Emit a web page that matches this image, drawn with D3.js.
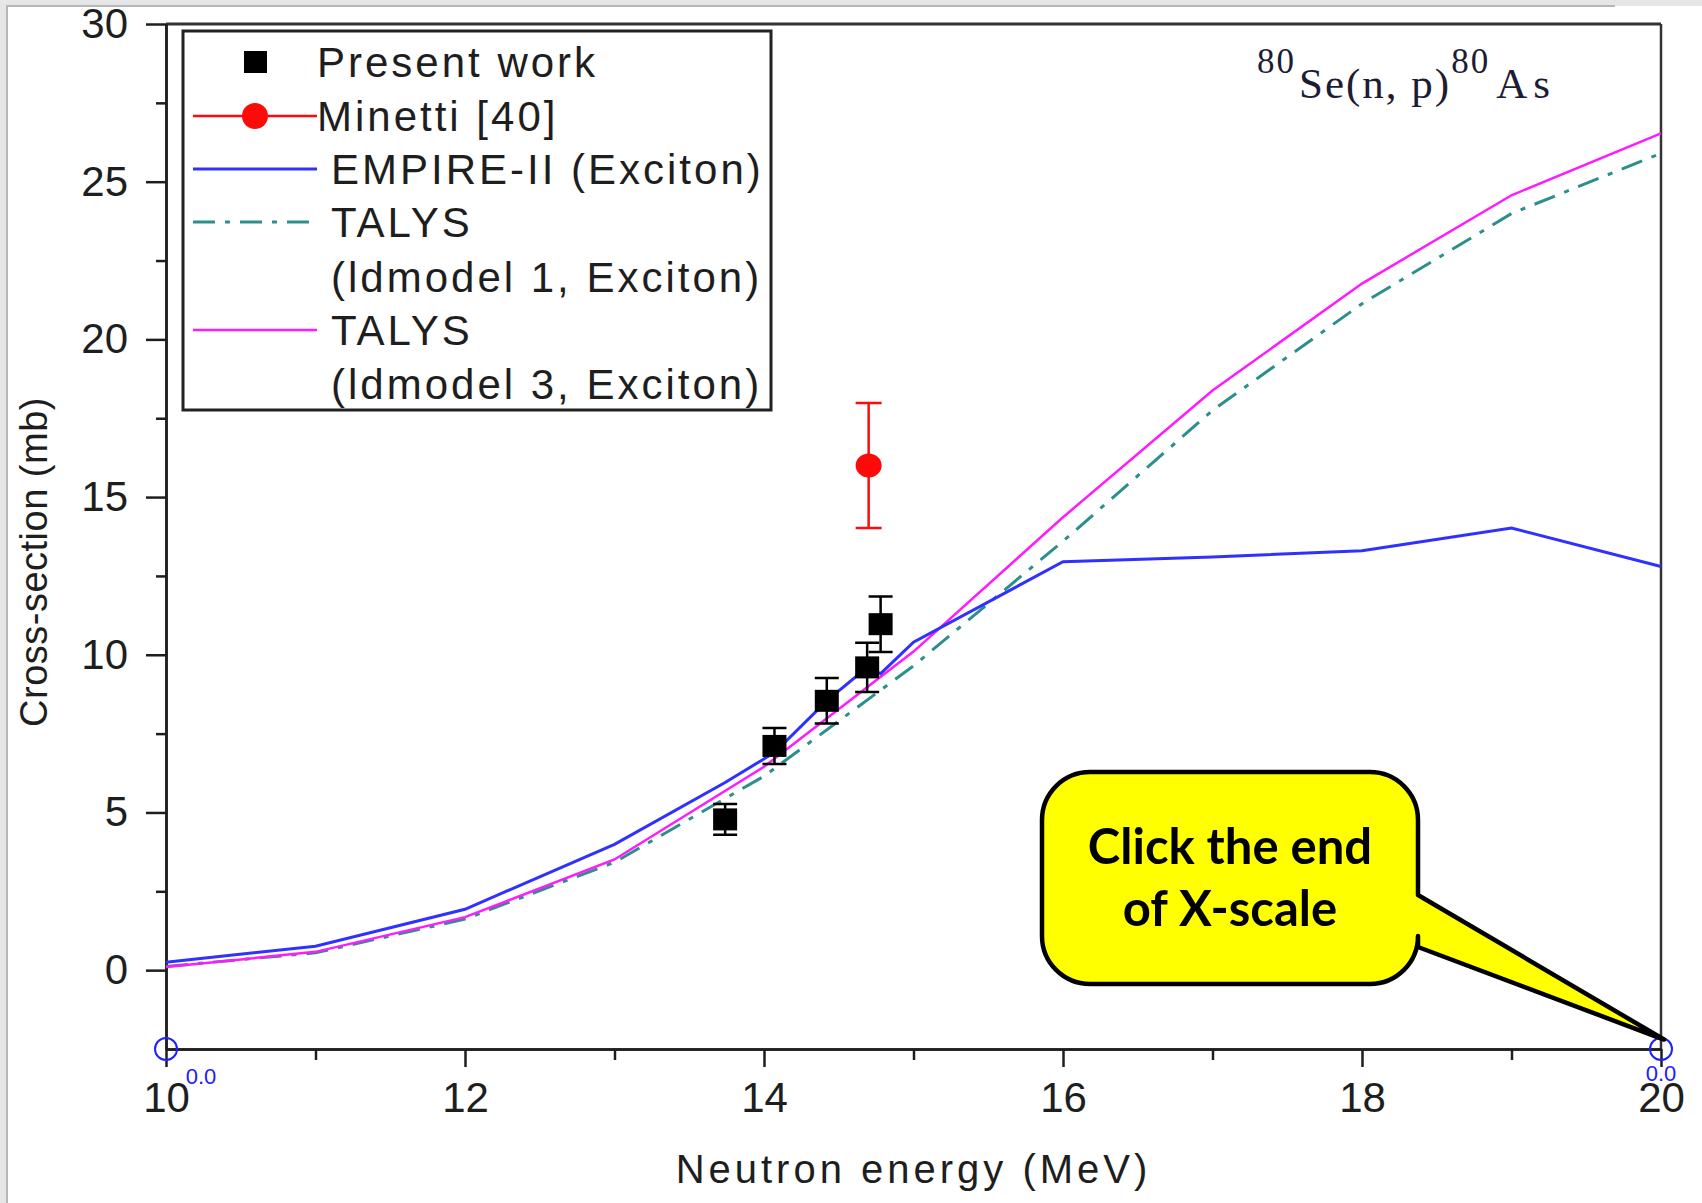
<!DOCTYPE html>
<html>
<head>
<meta charset="utf-8">
<script src="https://cdn.jsdelivr.net/npm/d3@7"></script>
<style>
  body { margin: 0; background: #fff; }
  svg { display: block; }
</style>
</head>
<body>
<div class="chart"></div>
<script>
// theory curves
var energies = [10, 11, 12, 13, 14, 15, 16, 17, 18, 19, 20];
var talys1 = [0.12, 0.55, 1.62, 3.42, 6.15, 9.65, 13.6, 17.75, 21.13, 23.99, 25.9];
var talys3 = [0.10, 0.58, 1.68, 3.51, 6.45, 10.1, 14.36, 18.38, 21.77, 24.57, 26.53];
var empireEnergies = [10, 11, 12, 13, 13.74, 14.07, 14.42, 14.69, 14.78, 15, 16, 17, 18, 19, 20];
var empire = [0.25, 0.76, 1.93, 3.99, 5.95, 6.9, 8.54, 9.6, 9.4, 10.4, 12.95, 13.1, 13.3, 14.02, 12.8];

// measured points
var presentE = [13.74, 14.07, 14.42, 14.69, 14.78];
var presentXS = [4.78, 7.11, 8.54, 9.60, 10.97];
var presentErr = [0.49, 0.57, 0.72, 0.78, 0.88];
var minettiE = [14.7];
var minettiXS = [16.0];
var minettiErr = [1.98];

// axis ticks
var xTicks = [10, 12, 14, 16, 18, 20];
var xMinor = [11, 13, 15, 17, 19];
var yTicks = [0, 5, 10, 15, 20, 25, 30];
var yMinor = [2.5, 7.5, 12.5, 17.5, 22.5, 27.5];

var legendLabels = ["Present work", "Minetti [40]", "EMPIRE-II (Exciton)", "TALYS",
    "(ldmodel 1, Exciton)", "TALYS", "(ldmodel 3, Exciton)"];

var W = 1702, H = 1203;
var plot = { left: 166, right: 1661, top: 24, bottom: 1049 };

var x = d3.scaleLinear().domain([10, 20]).range([plot.left, plot.right]);
var y = d3.scaleLinear().domain([-2.5, 30]).range([plot.bottom, plot.top]);

var svg = d3.select(".chart").append("svg")
    .attr("width", W)
    .attr("height", H);

// window chrome around the screenshot
svg.append("rect").attr("x", 0).attr("y", 0).attr("width", W).attr("height", 6).attr("fill", "#e6e6e6");
svg.append("line").attr("x1", 0).attr("x2", 1615).attr("y1", 6).attr("y2", 6).attr("stroke", "#b4b8bc").attr("stroke-width", 2);
svg.append("rect").attr("x", 0).attr("y", 0).attr("width", 6).attr("height", H).attr("fill", "#e6e6e6");
svg.append("line").attr("x1", 7).attr("x2", 7).attr("y1", 6).attr("y2", H).attr("stroke", "#b4b8bc").attr("stroke-width", 2);

var ink = "#1e1e1e";
var sans = "'Liberation Sans', Arial, sans-serif";

function styleAxis(g) {
    g.select(".domain").attr("stroke", ink).attr("stroke-width", 2.5);
    g.selectAll(".tick line").attr("stroke", ink).attr("stroke-width", 2.5);
    g.selectAll(".tick text")
        .attr("fill", ink)
        .style("font-family", sans)
        .style("font-size", "42px");
}

// frame top and right
svg.append("line")
    .attr("x1", plot.left).attr("x2", plot.right)
    .attr("y1", plot.top).attr("y2", plot.top)
    .attr("stroke", "#333").attr("stroke-width", 3);
svg.append("line")
    .attr("x1", plot.right).attr("x2", plot.right)
    .attr("y1", plot.top).attr("y2", plot.bottom)
    .attr("stroke", "#333").attr("stroke-width", 2.5);

// y axis
svg.append("g")
    .attr("transform", "translate(" + plot.left + ",0)")
    .call(d3.axisLeft(y).tickValues(yMinor).tickSize(10).tickSizeOuter(0).tickFormat(""))
    .call(styleAxis);
svg.append("g")
    .attr("transform", "translate(" + plot.left + ",0)")
    .call(d3.axisLeft(y).tickValues(yTicks).tickSize(20).tickSizeOuter(0).tickPadding(18))
    .call(styleAxis);

// x axis
svg.append("g")
    .attr("transform", "translate(0," + plot.bottom + ")")
    .call(d3.axisBottom(x).tickValues(xMinor).tickSize(11).tickSizeOuter(0).tickFormat(""))
    .call(styleAxis);
svg.append("g")
    .attr("transform", "translate(0," + plot.bottom + ")")
    .call(d3.axisBottom(x).tickValues(xTicks).tickSize(18).tickSizeOuter(0).tickPadding(15))
    .call(styleAxis);

// axis titles
svg.append("text")
    .attr("x", (plot.left + plot.right) / 2)
    .attr("y", 1183)
    .attr("text-anchor", "middle")
    .attr("fill", ink)
    .style("font-family", sans)
    .style("font-size", "40px")
    .style("letter-spacing", "4px")
    .text("Neutron energy (MeV)");

svg.append("text")
    .attr("transform", "translate(47,562) rotate(-90)")
    .attr("text-anchor", "middle")
    .attr("fill", ink)
    .style("font-family", sans)
    .style("font-size", "38px")
    .style("letter-spacing", "0.5px")
    .text("Cross-section (mb)");

// curves
var line = d3.line()
    .x(function (d) { return x(d[0]); })
    .y(function (d) { return y(d[1]); });

var talys1Data = energies.map(function (e, i) { return [e, talys1[i]]; });
var talys3Data = energies.map(function (e, i) { return [e, talys3[i]]; });
var empireData = empireEnergies.map(function (e, i) { return [e, empire[i]]; });

var teal = "#2c8f8c", magenta = "#ff1aff", blue = "#3030ff", red = "#ff0a0a";
var dashDot = "22,10,5,10";

svg.append("path").datum(talys1Data)
    .attr("d", line).attr("fill", "none")
    .attr("stroke", teal).attr("stroke-width", 3)
    .attr("stroke-dasharray", dashDot);
svg.append("path").datum(talys3Data)
    .attr("d", line).attr("fill", "none")
    .attr("stroke", magenta).attr("stroke-width", 2.5);
svg.append("path").datum(empireData)
    .attr("d", line).attr("fill", "none")
    .attr("stroke", blue).attr("stroke-width", 3);

// present work: squares with error bars
var present = presentE.map(function (e, i) { return { e: e, v: presentXS[i], err: presentErr[i] }; });
var pw = svg.append("g");
pw.selectAll(".err").data(present).enter().append("path")
    .attr("d", function (d) {
        var cx = x(d.e), t = y(d.v + d.err), b = y(d.v - d.err);
        return "M" + (cx - 12) + "," + t + "H" + (cx + 12) +
            "M" + cx + "," + t + "V" + b +
            "M" + (cx - 12) + "," + b + "H" + (cx + 12);
    })
    .attr("stroke", "#000").attr("stroke-width", 2.5).attr("fill", "none");
pw.selectAll("rect").data(present).enter().append("rect")
    .attr("x", function (d) { return x(d.e) - 12; })
    .attr("y", function (d) { return y(d.v) - 11; })
    .attr("width", 24).attr("height", 22)
    .attr("fill", "#000");

// Minetti
var minetti = minettiE.map(function (e, i) { return { e: e, v: minettiXS[i], err: minettiErr[i] }; });
svg.selectAll(".mErr").data(minetti).enter().append("path")
    .attr("d", function (d) {
        var cx = x(d.e), t = y(d.v + d.err), b = y(d.v - d.err);
        return "M" + (cx - 13) + "," + t + "H" + (cx + 13) +
            "M" + cx + "," + t + "V" + b +
            "M" + (cx - 13) + "," + b + "H" + (cx + 13);
    })
    .attr("stroke", red).attr("stroke-width", 2.5).attr("fill", "none");
svg.selectAll(".mDot").data(minetti).enter().append("ellipse")
    .attr("cx", function (d) { return x(d.e); })
    .attr("cy", function (d) { return y(d.v); })
    .attr("rx", 13).attr("ry", 12)
    .attr("fill", red);

// legend
var lg = svg.append("g");
lg.append("rect")
    .attr("x", 183).attr("y", 31).attr("width", 588).attr("height", 379)
    .attr("fill", "#fff").attr("stroke", "#222").attr("stroke-width", 3);

var rowY = [62, 116, 169, 222, 277, 330, 384];
var textX = [317, 317, 331, 331, 331, 331, 331];
lg.selectAll("text").data(legendLabels).enter().append("text")
    .attr("x", function (d, i) { return textX[i]; })
    .attr("y", function (d, i) { return rowY[i] + 15; })
    .attr("fill", ink)
    .style("font-family", sans)
    .style("font-size", "42px")
    .style("letter-spacing", "3px")
    .text(function (d) { return d; });

lg.append("rect").attr("x", 244).attr("y", rowY[0] - 11).attr("width", 23).attr("height", 22).attr("fill", "#000");
lg.append("line").attr("x1", 193).attr("x2", 317).attr("y1", rowY[1]).attr("y2", rowY[1])
    .attr("stroke", red).attr("stroke-width", 2.5);
lg.append("ellipse").attr("cx", 255).attr("cy", rowY[1]).attr("rx", 13).attr("ry", 13).attr("fill", red);
lg.append("line").attr("x1", 193).attr("x2", 317).attr("y1", rowY[2]).attr("y2", rowY[2])
    .attr("stroke", blue).attr("stroke-width", 3);
lg.append("line").attr("x1", 193).attr("x2", 317).attr("y1", rowY[3]).attr("y2", rowY[3])
    .attr("stroke", teal).attr("stroke-width", 3).attr("stroke-dasharray", dashDot);
lg.append("line").attr("x1", 193).attr("x2", 317).attr("y1", rowY[5]).attr("y2", rowY[5])
    .attr("stroke", magenta).attr("stroke-width", 2.5);

// reaction label
var serif = "'Liberation Serif', 'Times New Roman', serif";
var title = svg.append("text")
    .attr("x", 1257).attr("y", 98)
    .attr("fill", "#1c1c34")
    .style("font-family", serif)
    .style("font-size", "43px")
    .style("letter-spacing", "2px");
title.append("tspan").attr("dy", -25).style("font-size", "35px").text("80");
title.append("tspan").attr("dy", 25).attr("dx", 3).text("Se(n, p)");
title.append("tspan").attr("dy", -25).style("font-size", "35px").text("80");
title.append("tspan").attr("dy", 25).attr("dx", 6).style("letter-spacing", "6px").text("As");

// digitizer markers
[10, 20].forEach(function (v) {
    svg.append("circle")
        .attr("cx", x(v)).attr("cy", y(-2.5)).attr("r", 11)
        .attr("fill", "none").attr("stroke", "#2020ff").attr("stroke-width", 2);
});
svg.append("text").attr("x", x(10) + 35).attr("y", 1084).attr("text-anchor", "middle")
    .attr("fill", "#2020ff").style("font-family", sans).style("font-size", "22px").text("0.0");
svg.append("text").attr("x", x(20)).attr("y", 1081).attr("text-anchor", "middle")
    .attr("fill", "#2020ff").style("font-family", sans).style("font-size", "22px").text("0.0");

// callout
var L = 1042, R = 1418, T = 772, B = 984, r = 48;
var tipX = x(20) + 3, tipY = y(-2.2);
var callout = "M" + (L + r) + "," + T +
    "H" + (R - r) + "A" + r + "," + r + " 0 0 1 " + R + "," + (T + r) +
    "V895L" + tipX + "," + tipY + "L" + R + ",947" +
    "V" + (B - r) + "A" + r + "," + r + " 0 0 1 " + (R - r) + "," + B +
    "H" + (L + r) + "A" + r + "," + r + " 0 0 1 " + L + "," + (B - r) +
    "V" + (T + r) + "A" + r + "," + r + " 0 0 1 " + (L + r) + "," + T + "Z";
svg.append("path").attr("d", callout)
    .attr("fill", "#ffff00").attr("stroke", "#000").attr("stroke-width", 4.5)
    .attr("stroke-linejoin", "round");
svg.append("text").attr("x", (L + R) / 2).attr("y", 864).attr("text-anchor", "middle")
    .attr("fill", "#000").style("font-family", "Lato, 'Liberation Sans', sans-serif")
    .style("font-weight", "bold").style("font-size", "49px").text("Click the end");
svg.append("text").attr("x", (L + R) / 2).attr("y", 926).attr("text-anchor", "middle")
    .attr("fill", "#000").style("font-family", "Lato, 'Liberation Sans', sans-serif")
    .style("font-weight", "bold").style("font-size", "49px").text("of X-scale");
</script>
</body>
</html>
